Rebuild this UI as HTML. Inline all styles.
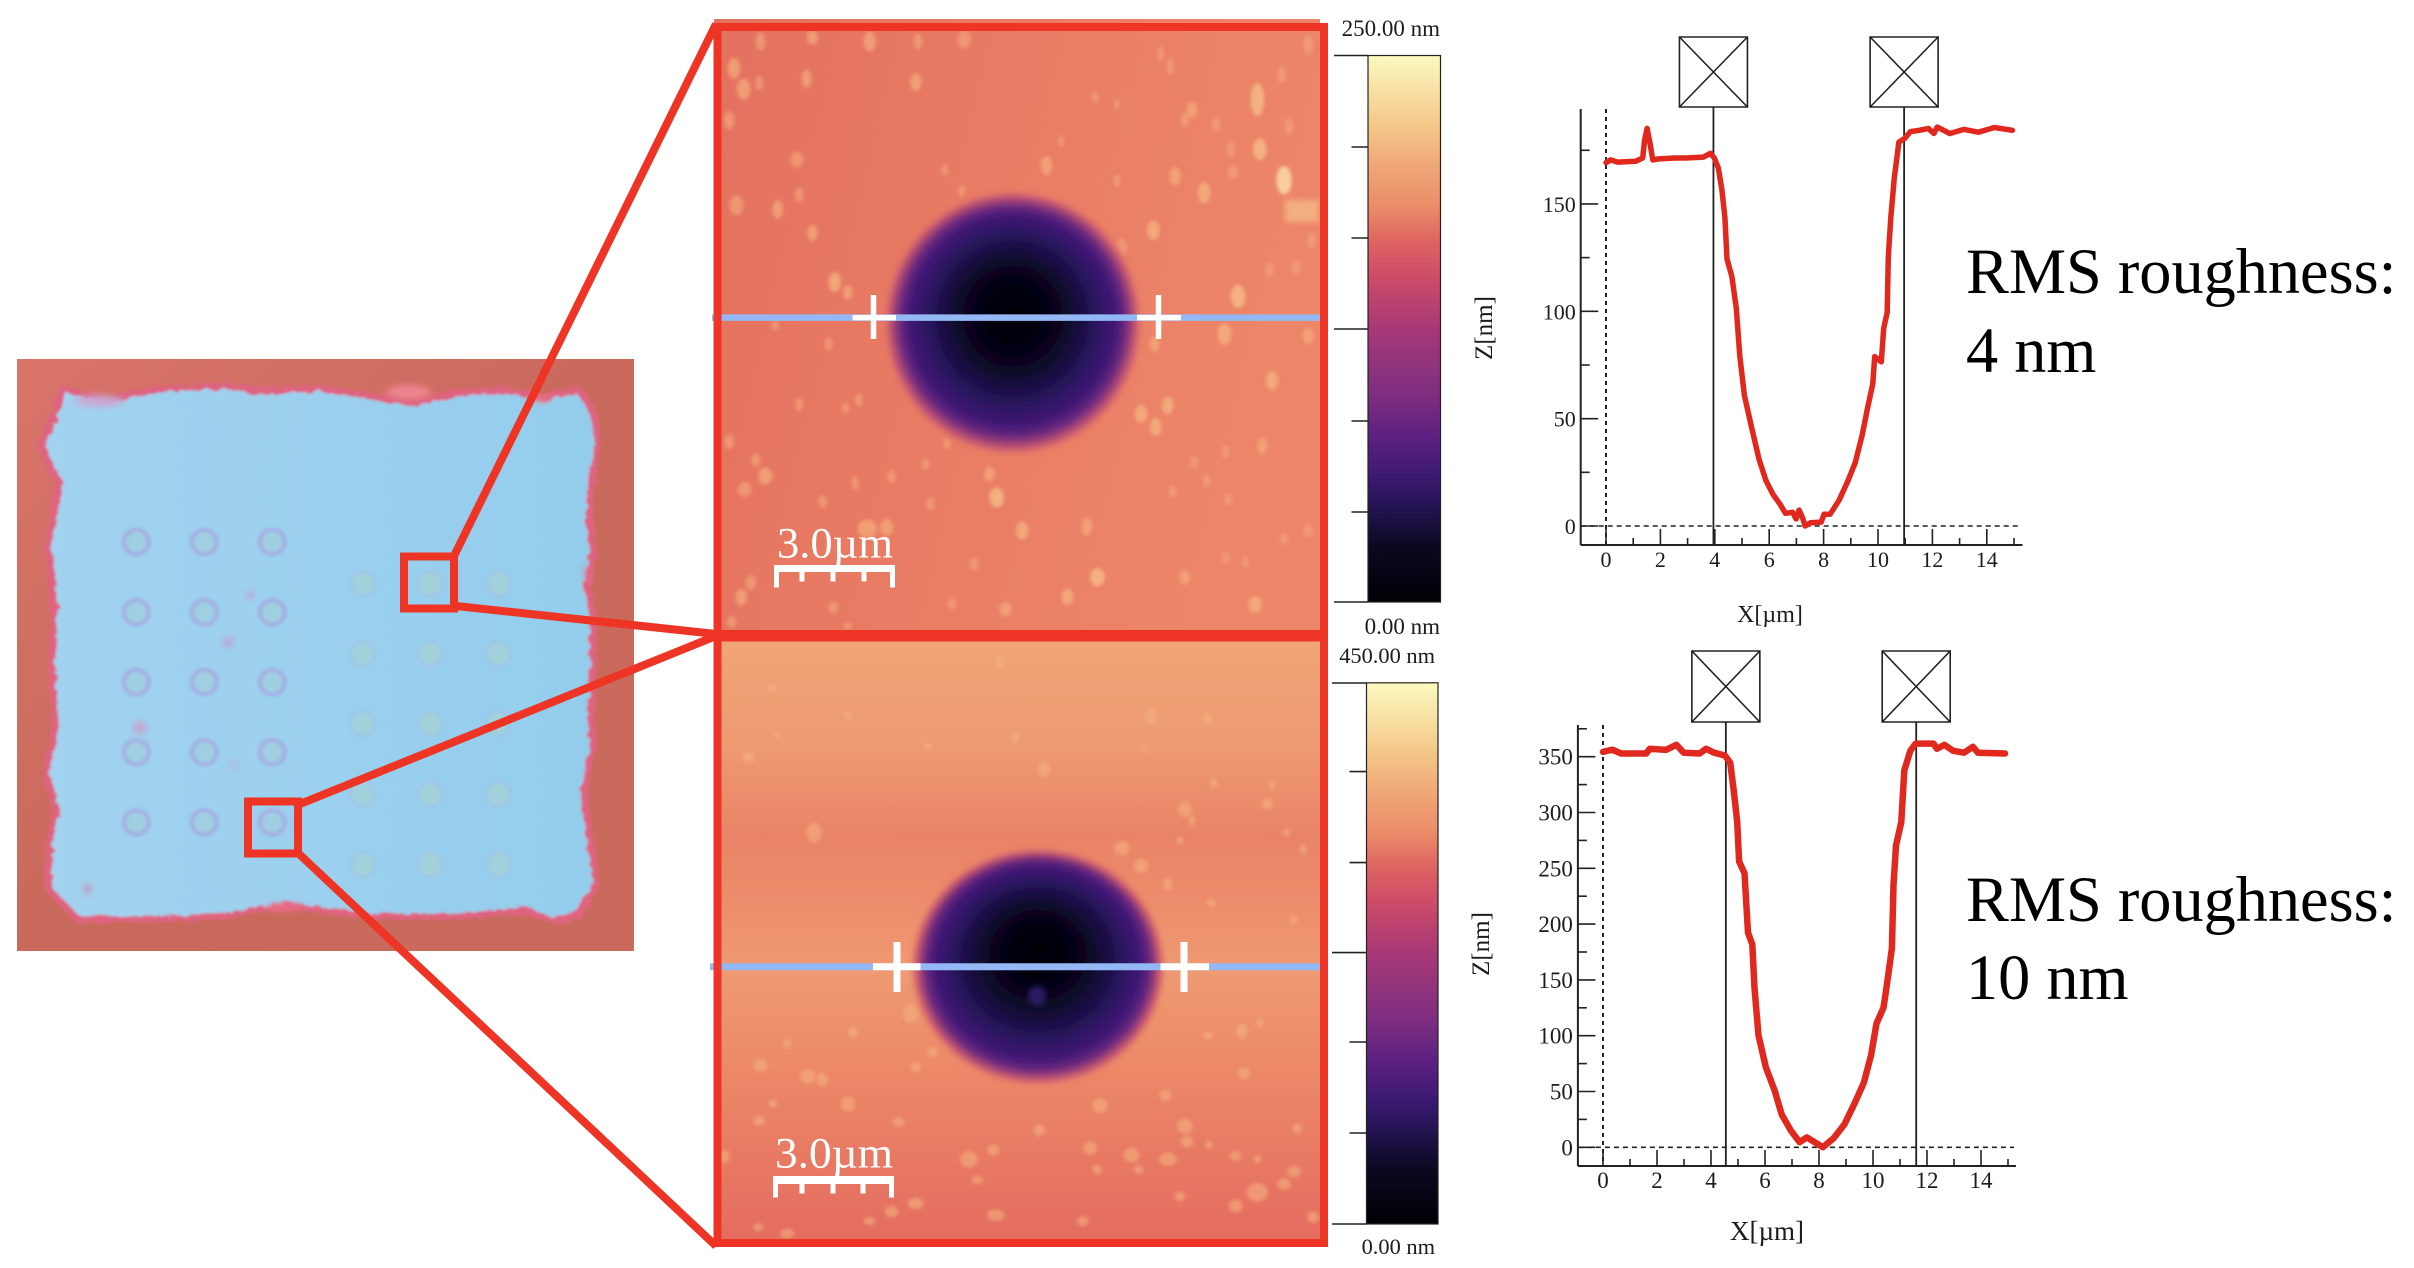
<!DOCTYPE html>
<html lang="en">
<head>
<meta charset="utf-8">
<title>AFM crater profiles</title>
<style>
html,body{margin:0;padding:0;background:#fff;width:2414px;height:1268px;overflow:hidden}
svg{display:block}
text{font-family:"Liberation Serif",serif;fill:#1c1c1c}
</style>
</head>
<body>
<svg id="figure" xmlns="http://www.w3.org/2000/svg" width="2414" height="1268" viewBox="0 0 2414 1268">
  <defs>
    <linearGradient id="sampleBg" x1="0" y1="0" x2="1" y2="1">
      <stop offset="0" stop-color="#d9746a"/><stop offset=".5" stop-color="#c9695c"/><stop offset="1" stop-color="#c96a5c"/>
    </linearGradient>
    <linearGradient id="blueFill" x1="0" y1="0" x2="1" y2="0">
      <stop offset="0" stop-color="#a2d3f0"/><stop offset="1" stop-color="#94cdec"/>
    </linearGradient>
    <linearGradient id="afmBg1" x1="0" y1="0" x2="1" y2="0.25">
      <stop offset="0" stop-color="#e3715f"/><stop offset=".5" stop-color="#e97c64"/><stop offset="1" stop-color="#ed8669"/>
    </linearGradient>
    <linearGradient id="afmBg2" x1="0" y1="0" x2="0" y2="1">
      <stop offset="0" stop-color="#f0a578"/><stop offset=".18" stop-color="#ee9a72"/><stop offset=".33" stop-color="#e98367"/>
      <stop offset=".42" stop-color="#ec8b6b"/><stop offset=".55" stop-color="#ef9a73"/><stop offset=".7" stop-color="#ec8a69"/>
      <stop offset=".85" stop-color="#e87a63"/><stop offset="1" stop-color="#e46c60"/>
    </linearGradient>
    <radialGradient id="crater1" cx=".5" cy=".5" r=".5" fx=".5" fy=".46">
      <stop offset="0" stop-color="#000004"/><stop offset=".22" stop-color="#020210"/><stop offset=".4" stop-color="#0b0724"/>
      <stop offset=".55" stop-color="#1c1049"/><stop offset=".68" stop-color="#2f1565"/><stop offset=".8" stop-color="#451a78"/>
      <stop offset=".87" stop-color="#6f2a7e"/><stop offset=".93" stop-color="#b34a74"/><stop offset=".975" stop-color="#e0706a"/>
      <stop offset="1" stop-color="#e97c64" stop-opacity="0"/>
    </radialGradient>
    <radialGradient id="crater2" cx=".5" cy=".5" r=".5" fx=".5" fy=".42">
      <stop offset="0" stop-color="#000004"/><stop offset=".22" stop-color="#020210"/><stop offset=".4" stop-color="#0b0724"/>
      <stop offset=".57" stop-color="#1c1049"/><stop offset=".7" stop-color="#2f1565"/><stop offset=".82" stop-color="#451a78"/>
      <stop offset=".89" stop-color="#6f2a7e"/><stop offset=".94" stop-color="#b34a74"/><stop offset=".98" stop-color="#e0706a"/>
      <stop offset="1" stop-color="#ec8b6b" stop-opacity="0"/>
    </radialGradient>
    <linearGradient id="magma" x1="0" y1="0" x2="0" y2="1">
      <stop offset="0" stop-color="#fbf9c0"/><stop offset=".125" stop-color="#f5c88a"/><stop offset=".2" stop-color="#f0a878"/>
      <stop offset=".28" stop-color="#eb8a68"/><stop offset=".34" stop-color="#de6461"/><stop offset=".4" stop-color="#cf4d67"/>
      <stop offset=".5" stop-color="#a83877"/><stop offset=".62" stop-color="#7e2e80"/><stop offset=".7" stop-color="#5c2080"/>
      <stop offset=".77" stop-color="#3c1a72"/><stop offset=".83" stop-color="#221350"/><stop offset=".9" stop-color="#0c0820"/>
      <stop offset="1" stop-color="#000004"/>
    </linearGradient>
    <clipPath id="clip1"><rect x="714" y="19" width="606" height="617"/></clipPath>
    <clipPath id="clip2"><rect x="714" y="636" width="606" height="609"/></clipPath>
    <filter id="soft" x="-20%" y="-20%" width="140%" height="140%"><feGaussianBlur stdDeviation="3"/></filter>
    <filter id="soft2" x="-5%" y="-5%" width="110%" height="110%"><feGaussianBlur stdDeviation="4"/></filter>
    <filter id="soft3" x="-5%" y="-5%" width="110%" height="110%"><feGaussianBlur stdDeviation="8"/></filter>
    <filter id="rough" x="-5%" y="-5%" width="110%" height="110%">
      <feTurbulence type="fractalNoise" baseFrequency="0.05" numOctaves="3" seed="4" result="n"/>
      <feDisplacementMap in="SourceGraphic" in2="n" scale="18"/>
      <feGaussianBlur stdDeviation="3"/>
    </filter>
  </defs>

  <!-- optical micrograph -->
  <g id="sample">
    <rect x="17" y="359" width="617" height="592" fill="url(#sampleBg)"/>
    <g transform="translate(0,340) scale(.4591,.4082)">
      <path filter="url(#rough)" fill="url(#blueFill)" stroke="#df6480" stroke-width="16"
        d="M135 118 L230 148 L330 122 L500 112 L560 125 L700 118 L820 140 L900 155 L990 130 L1100 122 L1180 142 L1260 122 L1290 170 L1302 240 L1290 340 L1283 430 L1292 520 L1280 600 L1292 680 L1292 800 L1287 900 L1292 1000 L1272 1100 L1282 1200 L1298 1335 L1255 1412 L1200 1422 L1150 1398 L1000 1412 L800 1412 L620 1385 L480 1412 L350 1418 L170 1420 L105 1345 L108 1220 L122 1150 L100 1060 L122 950 L112 800 L118 650 L105 500 L128 350 L90 260 L122 175 Z"/>
      <g id="debris" filter="url(#soft3)"></g>
      <g id="wells" filter="url(#soft2)"></g>
    </g>
  </g>

  <!-- AFM image 1 -->
  <g clip-path="url(#clip1)">
    <rect x="714" y="19" width="606" height="617" fill="url(#afmBg1)"/>
    <g id="specks1" transform="translate(700,0) scale(.4847,.4146)" filter="url(#soft2)"></g>
    <rect x="1285" y="200" width="34" height="22" fill="#f8cf95" opacity=".55" filter="url(#soft)"/>
    <ellipse cx="1012.6" cy="323" rx="130" ry="133" fill="url(#crater1)" filter="url(#soft)"/>
  </g>

  <!-- AFM image 2 -->
  <g clip-path="url(#clip2)">
    <rect x="714" y="636" width="606" height="609" fill="url(#afmBg2)"/>
    <g id="specks2" transform="translate(700,620) scale(.4847,.4132)" filter="url(#soft2)"></g>
    <ellipse cx="1038" cy="967" rx="127" ry="119" fill="url(#crater2)" filter="url(#soft)"/>
    <ellipse cx="1037" cy="996" rx="9" ry="10" fill="#2c1a62" filter="url(#soft)"/>
  </g>

  <!-- section lines and crosshairs -->
  <g>
    <line x1="712" y1="317.6" x2="1320" y2="317.6" stroke="#93b8f5" stroke-width="6.5"/>
    <path d="M873.5 295V339M852.5 317.6H896" stroke="#fff" stroke-width="5.5" fill="none"/>
    <path d="M1158.5 295V339M1137 317.6H1181" stroke="#fff" stroke-width="5.5" fill="none"/>
  </g>
  <g>
    <line x1="710" y1="966.7" x2="1320" y2="966.7" stroke="#93b8f5" stroke-width="7"/>
    <path d="M897 942V992M873 966.7H920.5" stroke="#fff" stroke-width="7" fill="none"/>
    <path d="M1184 942V992M1160.5 966.7H1209" stroke="#fff" stroke-width="7" fill="none"/>
  </g>

  <!-- scale bars -->
  <g>
    <text x="777" y="557.5" font-size="43" style="fill:#fff" textLength="116" lengthAdjust="spacingAndGlyphs">3.0µm</text>
    <path d="M774 568.5H895" stroke="#fff" stroke-width="7" fill="none"/>
    <path d="M776.5 568.5V587.5M892.5 568.5V587.5M802 568.5V581.5M833 568.5V581.5M864 568.5V581.5" stroke="#fff" stroke-width="5" fill="none"/>
  </g>
  <g>
    <text x="775" y="1167.5" font-size="43" style="fill:#fff" textLength="118" lengthAdjust="spacingAndGlyphs">3.0µm</text>
    <path d="M773 1180H894" stroke="#fff" stroke-width="8" fill="none"/>
    <path d="M775.5 1180V1197.5M891.5 1180V1197.5M802 1180V1193.5M833 1180V1193.5M863 1180V1193.5" stroke="#fff" stroke-width="5" fill="none"/>
  </g>

  <!-- red frames and connectors -->
  <g stroke="#ee3424" fill="none">
    <path d="M454 556L716 24" stroke-width="8"/>
    <path d="M456 606L716 634" stroke-width="8"/>
    <path d="M300 804L716 636" stroke-width="8"/>
    <path d="M298 853L716 1246" stroke-width="8"/>
    <rect x="404" y="556.5" width="50" height="52" stroke-width="8"/>
    <rect x="248" y="801.5" width="50" height="52" stroke-width="8"/>
    <rect x="717.5" y="27" width="606.5" height="609" stroke-width="8"/>
    <rect x="717.5" y="636" width="606.5" height="607" stroke-width="8"/>
    <rect x="714" y="630" width="614" height="11.5" fill="#ee3424" stroke="none"/>
  </g>

  <!-- colour bars -->
  <g>
    <rect x="1368" y="55.5" width="72.5" height="546.5" fill="url(#magma)" stroke="#222" stroke-width="1.2"/>
    <g id="cbticks1"></g>
    <text x="1440" y="36" font-size="23" text-anchor="end">250.00 nm</text>
    <text x="1440" y="634" font-size="23" text-anchor="end">0.00 nm</text>
  </g>
  <g>
    <rect x="1366.5" y="682.8" width="71.5" height="541.2" fill="url(#magma)" stroke="#222" stroke-width="1.2"/>
    <g id="cbticks2"></g>
    <text x="1435" y="663" font-size="22.4" text-anchor="end">450.00 nm</text>
    <text x="1435" y="1254" font-size="22.4" text-anchor="end">0.00 nm</text>
  </g>

  <!-- profile charts -->
  <g id="chart1"></g>
  <g id="chart2"></g>

  <!-- roughness annotations -->
  <g>
    <text x="1966" y="293" font-size="64.3" style="fill:#000">RMS roughness:</text>
    <text x="1966" y="372" font-size="64.3" style="fill:#000">4 nm</text>
  </g>
  <g>
    <text x="1966" y="921" font-size="64.3" style="fill:#000">RMS roughness:</text>
    <text x="1966" y="999" font-size="64.3" style="fill:#000">10 nm</text>
  </g>
</svg>

<script>
// ---- chart data ----
var xTicks = [0, 2, 4, 6, 8, 10, 12, 14];
var xMinorTicks = [1, 3, 5, 7, 9, 11, 13, 15];
var zTicksTop = [0, 50, 100, 150];
var zMinorTop = [25, 75, 125, 175];
var zTicksBottom = [0, 50, 100, 150, 200, 250, 300, 350];
var zMinorBottom = [25, 75, 125, 175, 225, 275, 325, 375];
var markersTop = [3.95, 10.96];
var markersBottom = [4.55, 11.6];
var profileTopX = [0,0.17,0.43,1.09,1.35,1.42,1.51,1.61,1.72,1.94,2.53,2.93,3.58,3.84,3.98,4.13,4.26,4.37,4.45,4.63,4.79,4.92,5.09,5.35,5.62,5.88,6.14,6.40,6.60,6.86,6.99,7.10,7.23,7.32,7.52,7.91,8.02,8.24,8.57,8.90,9.16,9.42,9.62,9.81,9.88,10.12,10.21,10.34,10.38,10.47,10.60,10.77,10.99,11.19,11.52,11.85,12.05,12.18,12.64,13.16,13.69,14.28,14.94];
var profileTopZ = [169.2,170.5,169.5,169.9,171.4,179.7,185.2,178.8,170.5,171,171.4,171.4,171.8,173.6,171.4,166.8,156.6,143.7,124.4,116.1,101.4,79.2,60.8,46.1,31.3,21.2,14.7,10.1,5.9,6.4,3.3,7.4,3.7,0,1.5,1.8,5.5,5.5,12,21.2,29.5,42.4,55.3,66.3,78.9,76.5,92.1,99.5,125.3,143.7,162.2,178.8,180.6,183.7,184.3,185.2,182.8,185.8,182.8,184.7,183.4,185.6,184.3];
var profileBottomX = [0,0.34,0.67,1.60,1.73,2.33,2.72,2.99,3.58,3.82,4.11,4.51,4.71,4.84,4.97,5.04,5.24,5.37,5.53,5.61,5.76,6.03,6.36,6.62,6.95,7.28,7.55,7.88,8.14,8.54,8.94,9.33,9.66,9.93,10.13,10.39,10.52,10.70,10.76,10.85,11.05,11.16,11.38,11.58,12.24,12.37,12.64,12.97,13.37,13.70,13.89,14.89];
var profileBottomZ = [354.3,356.4,352.9,352.9,357.1,356.1,360.7,353.6,352.9,357.1,353.6,351.1,344.7,319.9,291.6,256.2,245.5,192.4,181.8,142.8,100.3,71.9,50.7,29.4,15.2,4.6,8.9,3.9,0,8.1,20.5,40,57.8,82.6,110.9,125.1,146.3,178.2,234.9,270.3,291.6,337.6,355.3,361.7,361.7,357.1,360.7,355.3,353.6,358.9,353.6,352.9];

var NS = 'http://www.w3.org/2000/svg';
function make(tag, props) {
  var e = document.createElementNS(NS, tag);
  for (var k in props) { e.setAttribute(k, props[k]); }
  return e;
}

function drawChart(host, cfg) {
  var sx = function (v) { return cfg.x0 + v * cfg.xPer; };
  var sz = function (v) { return cfg.z0 - v * cfg.zPer; };
  var el;

  el = make('line', {x1: cfg.axisX, y1: cfg.top, x2: cfg.axisX, y2: cfg.axisY, stroke: '#222', 'stroke-width': 2});
  
  
  host.appendChild(el);

  el = make('line', {x1: cfg.axisX, y1: cfg.axisY, x2: cfg.right, y2: cfg.axisY, stroke: '#222', 'stroke-width': 2});
  
  
  host.appendChild(el);

  cfg.zTicks.forEach(function (v) {
    var t = make('line', {x1: cfg.axisX, y1: sz(v), x2: cfg.axisX + 17.5, y2: sz(v), stroke: '#222', 'stroke-width': 1.6});
    
    
    host.appendChild(t);
    var l = make('text', {x: cfg.axisX - 5, y: sz(v) + 8, 'font-size': cfg.tickSize, 'text-anchor': 'end'});
    
    
    l.textContent = v;
    host.appendChild(l);
  });

  cfg.zMinor.forEach(function (v) {
    var t = make('line', {x1: cfg.axisX, y1: sz(v), x2: cfg.axisX + 9, y2: sz(v), stroke: '#222', 'stroke-width': 1.6});
    
    
    host.appendChild(t);
  });

  xTicks.forEach(function (v) {
    var t = make('line', {x1: sx(v), y1: cfg.axisY, x2: sx(v), y2: cfg.axisY - 16, stroke: '#222', 'stroke-width': 1.6});
    
    
    host.appendChild(t);
    var l = make('text', {x: sx(v), y: cfg.axisY + 22, 'font-size': cfg.tickSize, 'text-anchor': 'middle'});
    
    
    l.textContent = v;
    host.appendChild(l);
  });

  xMinorTicks.forEach(function (v) {
    var t = make('line', {x1: sx(v), y1: cfg.axisY, x2: sx(v), y2: cfg.axisY - 7, stroke: '#222', 'stroke-width': 1.6});
    
    
    host.appendChild(t);
  });

  el = make('line', {x1: sx(0), y1: cfg.top, x2: sx(0), y2: cfg.axisY, stroke: '#222', 'stroke-width': 2, 'stroke-dasharray': '4 4'});
  
  
  host.appendChild(el);

  el = make('line', {x1: cfg.axisX, y1: sz(0), x2: cfg.right - 2, y2: sz(0), stroke: '#222', 'stroke-width': 1.6, 'stroke-dasharray': '5 4'});
  
  
  host.appendChild(el);

  cfg.markers.forEach(function (v) {
    var ln = make('line', {x1: sx(v), y1: cfg.boxTop + cfg.boxH, x2: sx(v), y2: cfg.axisY, stroke: '#222', 'stroke-width': 1.8});
    
    
    host.appendChild(ln);
    var x0 = sx(v) - 34, y0 = cfg.boxTop;
    var bx = make('path', {d: 'M' + x0 + ' ' + y0 + 'h68v' + cfg.boxH + 'h-68zM' + x0 + ' ' + y0 + 'l68 ' + cfg.boxH + 'M' + (x0 + 68) + ' ' + y0 + 'l-68 ' + cfg.boxH, fill: '#fff', stroke: '#222', 'stroke-width': 1.6});
    
    
    host.appendChild(bx);
  });

  var pts = cfg.xs.map(function (x, i) { return sx(x).toFixed(1) + ',' + sz(cfg.zs[i]).toFixed(1); }).join(' ');
  el = make('polyline', {points: pts, fill: 'none', stroke: '#e1281e', 'stroke-width': cfg.lineW, 'stroke-linejoin': 'round', 'stroke-linecap': 'round'});
  
  
  host.appendChild(el);

  el = make('text', {x: cfg.xLabelX, y: cfg.xLabelY, 'font-size': cfg.xLabelSize, 'text-anchor': 'middle'});
  
  
  el.textContent = 'X[µm]';
  host.appendChild(el);

  el = make('text', {'font-size': 25, 'text-anchor': 'middle', transform: 'translate(' + cfg.zLabelX + ',' + cfg.zLabelY + ') rotate(-90)'});
  
  
  el.textContent = 'Z[nm]';
  host.appendChild(el);
}

drawChart(document.getElementById('chart1'), {
  x0: 1606, xPer: 27.2, z0: 526, zPer: 2.147, axisX: 1580.7, axisY: 545, top: 109, right: 2022.5,
  zTicks: zTicksTop, zMinor: zMinorTop, markers: markersTop, xs: profileTopX, zs: profileTopZ,
  boxTop: 37, boxH: 70, lineW: 5.5, tickSize: 22, xLabelX: 1770, xLabelY: 622, xLabelSize: 24, zLabelX: 1492, zLabelY: 328
});
drawChart(document.getElementById('chart2'), {
  x0: 1603, xPer: 27, z0: 1147.3, zPer: 1.116, axisX: 1577.9, axisY: 1166, top: 725, right: 2016,
  zTicks: zTicksBottom, zMinor: zMinorBottom, markers: markersBottom, xs: profileBottomX, zs: profileBottomZ,
  boxTop: 651, boxH: 71, lineW: 6.5, tickSize: 23, xLabelX: 1767, xLabelY: 1240, xLabelSize: 27, zLabelX: 1489, zLabelY: 944
});

// ---- colour bar ticks ----
var cbTicksTop = [[1334, 55.5], [1351.5, 147], [1351.5, 238], [1334, 329], [1351.5, 421], [1351.5, 512], [1334, 602]];
var cbTicksBottom = [[1332, 683], [1349.5, 771.6], [1349.5, 862.6], [1332, 952.6], [1349.5, 1042], [1349.5, 1133], [1332, 1224]];
function drawBarTicks(id, list, endX) {
  var g = document.getElementById(id);
  list.forEach(function (p) {
    var t = make('line', {x1: p[0], y1: p[1], x2: endX, y2: p[1], stroke: '#222', 'stroke-width': 1.6});
    
    
    g.appendChild(t);
  });
}
drawBarTicks('cbticks1', cbTicksTop, 1368);
drawBarTicks('cbticks2', cbTicksBottom, 1366.5);

// ---- wells and debris on the optical micrograph ----
var wellsLeftX = [297, 445, 593];
var wellsLeftY = [495, 667, 838, 1010, 1182];
var wellsRightX = [790, 937, 1085];
var wellsRightY = [597, 770, 940, 1112, 1285];
var debrisSpots = [[890,128,50,18,'#ee8490'],[215,150,55,14,'#c8a8d4'],[620,1390,40,10,'#ea6f86'],[545,625,7,12,'#c49ad0'],[497,740,9,14,'#c49ad0'],[305,950,12,18,'#c8a0cc'],[190,1345,6,14,'#c880a8'],[510,1040,5,20,'#b4b4dc'],[1180,145,18,7,'#ea7a8c'],[1280,575,5,24,'#e2708c']];
var debrisGroup = document.getElementById('debris');
debrisSpots.forEach(function (d) {
  var s = make('ellipse', {cx: d[0], cy: d[1], rx: d[2], ry: d[3], fill: d[4]});
  
  
  debrisGroup.appendChild(s);
});
var wellGroup = document.getElementById('wells');
wellsLeftX.forEach(function (x) {
  wellsLeftY.forEach(function (y) {
    var c = make('ellipse', {cx: x, cy: y, rx: 27, ry: 30, fill: '#a0cfe2', stroke: '#a3abe2', 'stroke-width': 9});
    
    
    wellGroup.appendChild(c);
  });
});
wellsRightX.forEach(function (x) {
  wellsRightY.forEach(function (y) {
    var c = make('ellipse', {cx: x, cy: y, rx: 26, ry: 30, fill: '#a2d1dc', stroke: '#a0c2e8', 'stroke-width': 5});
    
    
    wellGroup.appendChild(c);
  });
});

// ---- surface particles on the AFM images ----
var particlesTop = [[1205,435,16,34,'#fbe7ae'],[1150,240,14,40,'#f6c08a'],[1155,360,14,26,'#f6c08a'],[1040,465,13,26,'#f6b482'],[980,425,12,22,'#f4a97b'],[935,555,13,24,'#f6b482'],[1110,715,15,28,'#f6c08a'],[1082,805,14,26,'#f6b482'],[1180,918,13,22,'#f6b482'],[965,978,12,22,'#f6b482'],[910,998,13,22,'#f6b482'],[940,1030,12,22,'#f6b482'],[1160,1075,10,20,'#f4a97b'],[820,1392,15,22,'#f6c08a'],[1145,1458,14,20,'#f6b482'],[758,1440,12,20,'#f6b482'],[1000,1392,11,18,'#f4a97b'],[665,1280,13,22,'#f6b482'],[612,1200,15,24,'#f6c08a'],[597,1143,11,18,'#f4a97b'],[798,1270,11,22,'#f4a97b'],[345,1275,20,22,'#f4a97b'],[385,1272,14,20,'#f4a97b'],[135,1148,15,20,'#f4a97b'],[92,1180,14,18,'#f2a078'],[85,1440,12,20,'#f4a97b'],[105,1405,11,18,'#f2a078'],[278,680,13,24,'#f6b482'],[305,705,10,18,'#f4a97b'],[232,562,11,20,'#f4a97b'],[160,505,11,22,'#f4a97b'],[75,495,15,24,'#f2a078'],[205,470,9,18,'#f2a078'],[200,385,13,20,'#f2a078'],[90,215,14,26,'#f4a97b'],[70,165,13,26,'#f4a97b'],[60,290,11,22,'#f2a078'],[220,190,10,22,'#f4a97b'],[122,200,8,18,'#f2a078'],[445,198,12,22,'#f4a97b'],[350,100,13,24,'#f4a97b'],[232,90,11,18,'#f4a97b'],[125,100,10,22,'#f2a078'],[450,100,9,20,'#f2a078'],[545,95,14,22,'#f2a078'],[715,400,12,24,'#f4a97b'],[870,595,11,20,'#f2a078'],[1100,415,10,18,'#f2a078'],[1095,360,9,20,'#f2a078'],[1015,265,11,20,'#f4a97b'],[1000,290,9,18,'#f2a078'],[1215,305,9,20,'#f2a078'],[1065,300,9,18,'#f2a078'],[1255,108,10,24,'#f2a078'],[1200,180,9,20,'#f2a078'],[970,160,8,20,'#f2a078'],[950,130,7,18,'#f2a078'],[1262,580,9,20,'#f2a078'],[1230,645,9,18,'#f2a078'],[1175,650,8,18,'#f2a078'],[1255,810,11,20,'#f4a97b'],[938,830,10,20,'#f4a97b'],[1085,1090,8,16,'#f2a078'],[1020,1115,8,16,'#f2a078'],[1045,1160,8,16,'#f2a078'],[975,1185,8,14,'#f2a078'],[1090,1205,8,14,'#f2a078'],[1255,1280,10,16,'#f2a078'],[1205,1300,8,14,'#f2a078'],[1085,1345,8,14,'#f2a078'],[1125,1355,7,14,'#f2a078'],[565,1360,10,16,'#f2a078'],[630,1470,12,18,'#f4a97b'],[520,1455,9,14,'#f2a078'],[275,1465,10,14,'#f2a078'],[305,1510,8,10,'#f2a078'],[65,1500,10,14,'#f2a078'],[475,1215,9,16,'#f2a078'],[510,1070,8,14,'#f2a078'],[465,1120,8,14,'#f2a078'],[395,1150,9,16,'#f2a078'],[320,1165,8,16,'#f2a078'],[253,1210,9,16,'#f2a078'],[115,1110,10,16,'#f2a078'],[60,1065,10,18,'#f2a078'],[205,975,8,16,'#f2a078'],[328,965,8,16,'#f2a078'],[300,985,7,14,'#f2a078'],[265,830,8,16,'#f2a078'],[155,785,9,12,'#f2a078'],[540,460,7,16,'#f2a078'],[505,410,7,14,'#f2a078'],[860,435,7,16,'#f2a078'],[815,235,7,14,'#f2a078'],[860,250,6,14,'#f2a078'],[745,340,6,14,'#f2a078']];
var particlesBottom = [[710,362,13,18],[235,515,16,24],[930,235,12,20],[1047,240,10,16],[620,100,10,18],[100,333,13,14],[650,285,9,14],[470,305,7,10],[305,230,8,12],[148,165,9,12],[160,278,6,8],[917,312,7,8],[1000,458,14,18],[1170,445,11,14],[1015,485,7,12],[1210,515,8,10],[1060,395,7,12],[1180,400,6,12],[870,552,16,18],[910,595,15,18],[965,640,10,16],[1055,685,9,10],[1225,725,8,10],[990,535,8,10],[1245,555,7,12],[435,952,17,22],[515,1018,14,20],[480,1045,10,12],[1118,995,12,18],[1048,1005,8,10],[1155,975,8,12],[1122,1097,13,14],[960,1150,11,14],[825,1175,16,18],[305,1172,15,18],[222,1105,15,18],[252,1112,12,16],[125,1077,14,16],[315,998,10,12],[445,1082,11,12],[180,1025,8,10],[150,1170,9,10],[122,1212,12,12],[410,1215,12,12],[395,1432,14,14],[555,1305,18,20],[605,1283,12,14],[700,1235,12,14],[805,1278,14,16],[890,1295,16,18],[965,1305,18,16],[1000,1225,16,18],[1005,1262,13,14],[1050,1270,8,10],[1105,1297,12,12],[1150,1385,22,22],[1205,1365,14,14],[1225,1335,14,14],[1105,1418,14,16],[990,1395,11,12],[905,1330,10,10],[820,1330,10,12],[445,1412,16,14],[610,1440,18,14],[790,1455,12,12],[572,1355,12,10],[50,1298,12,16],[180,1485,14,12],[120,1470,10,10],[350,1455,12,10],[1265,1445,12,14],[1232,1230,10,12],[1150,1305,8,10]];
var group1 = document.getElementById('specks1');
particlesTop.forEach(function (p) {
  var s = make('ellipse', {cx: p[0], cy: p[1], rx: p[2], ry: p[3], fill: p[4], opacity: 0.75});
  
  
  group1.appendChild(s);
});
var group2 = document.getElementById('specks2');
particlesBottom.forEach(function (p) {
  var s = make('ellipse', {cx: p[0], cy: p[1], rx: p[2], ry: p[3], fill: '#f5b080', opacity: 0.6});
  
  
  group2.appendChild(s);
});
</script>
</body>
</html>
